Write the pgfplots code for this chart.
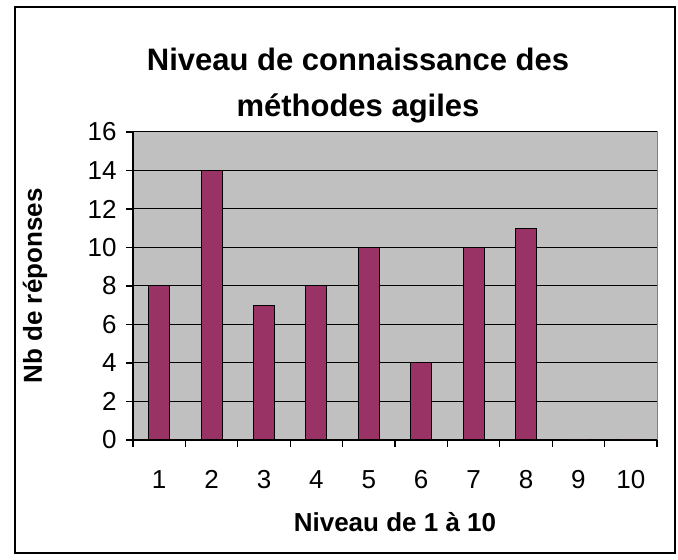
\documentclass[border=0pt]{standalone}
\usepackage{pgfplots}
\pgfplotsset{compat=1.18}
\usepackage{fontspec}
\setmainfont{Liberation Sans}
\definecolor{barc}{HTML}{993366}
\definecolor{plotbg}{HTML}{C0C0C0}
\begin{document}
\begin{tikzpicture}[x=1pt,y=1pt]
\useasboundingbox (0,0) rectangle (678,560);
\draw[line width=1.6pt] (15,7) rectangle (675,553);
\node[font=\fontsize{31}{46}\selectfont\bfseries, align=center] at (358,474) {Niveau de connaissance des\\méthodes agiles};
\node[font=\fontsize{26}{30}\selectfont\bfseries, rotate=90] at (35,274) {Nb de réponses};
\node[font=\fontsize{26}{30}\selectfont\bfseries] at (395,38) {Niveau de 1 à 10};
\begin{axis}[at={(133pt,120pt)}, anchor=south west, width=524pt, height=308pt, scale only axis,
 xmin=0.5, xmax=10.5, ymin=0, ymax=16, ytick={0,2,...,16},
 xtick={0.5,1.5,...,10.5}, xticklabels={1,2,3,4,5,6,7,8,9,10}, x tick label as interval,
 axis x line*=bottom, axis y line*=left,
 axis line style={black, line width=1.2pt},
 axis background/.style={fill=plotbg, draw=gray, line width=1pt},
 ymajorgrids, grid style={black, line width=1pt},
 tick align=outside, major tick length=7pt, tick style={black, line width=1.2pt},
 /pgf/number format/assume math mode=true,
 ticklabel style={font=\fontsize{26}{30}\selectfont},
 yticklabel style={xshift=-6pt},
 xticklabel style={yshift=-20pt},
]
\addplot[ybar, bar width=21pt, fill=barc, draw=black, line width=1pt] coordinates {(1,8) (2,14) (3,7) (4,8) (5,10) (6,4) (7,10) (8,11) (9,0) (10,0)};
\end{axis}
\end{tikzpicture}
\end{document}
